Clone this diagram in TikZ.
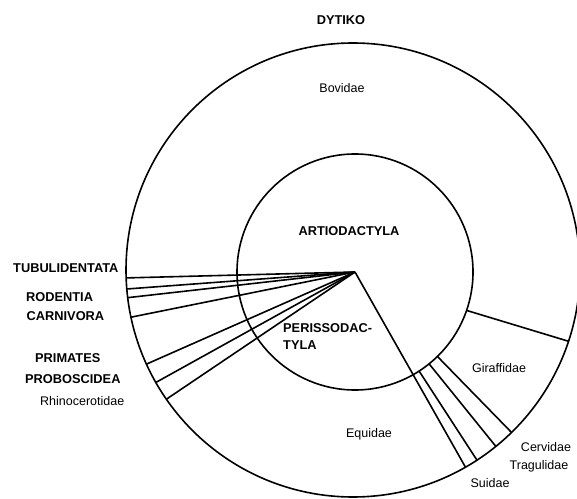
\documentclass[tikz,border=0pt]{standalone}
\usepackage{fontspec}
\setmainfont{Liberation Sans}
\begin{document}
\begin{tikzpicture}[x=1pt,y=1pt,
  ring/.style={draw, line width=1.6pt},
  ray/.style={draw, line width=1.6pt},
  order/.style={font=\fontsize{12.8}{17}\selectfont\bfseries, inner sep=0pt},
  family/.style={font=\fontsize{12.5}{15}\selectfont, inner sep=0pt}]
\useasboundingbox (0,0) rectangle (577,498);
\coordinate (O) at (353,228);
\coordinate (H) at (355,226);
\draw[ring] (O) circle (227pt);
\draw[ring] (H) circle (118pt);
% rays from the hub to the outer ring (left side)
\foreach \a [count=\i] in {182,184.8,187,192,204.5,209.7,214.7}{
  \coordinate (L\i) at ([shift={(\a:227)}]O);
  \draw[ray] (H) -- (L\i);
}
% Perissodactyla / Artiodactyla boundary
\coordinate (P) at ([shift={(-60.3:227)}]O);
\draw[ray] (H) -- (P);
% family boundaries in the outer ring (right side)
\coordinate (S1) at ([shift={(-57.1:118)}]H);
\coordinate (S2) at ([shift={(-56.9:227)}]O);
\coordinate (T1) at ([shift={(-51.1:118)}]H);
\coordinate (T2) at ([shift={(-51.0:227)}]O);
\coordinate (C1) at ([shift={(-45.7:118)}]H);
\coordinate (C2) at ([shift={(-45.7:227)}]O);
\coordinate (G1) at ([shift={(-19.0:118)}]H);
\coordinate (G2) at ([shift={(-18.3:227)}]O);
\draw[ray] (S1) -- (S2);
\draw[ray] (T1) -- (T2);
\draw[ray] (C1) -- (C2);
\draw[ray] (G1) -- (G2);
% labels
\node[order] (dytiko) at (341,478) {DYTIKO};
\node[family] (bovidae) at (342,410) {Bovidae};
\node[order] (artio) at (349,267) {ARTIODACTYLA};
\node[order, anchor=west, align=left] (peri) at (283,161.5) {PERISSODAC-\\TYLA};
\node[order, anchor=west] (tubu) at (13,230) {TUBULIDENTATA};
\node[order, anchor=west] (rode) at (26,201) {RODENTIA};
\node[order, anchor=west] (carn) at (26.5,182) {CARNIVORA};
\node[order, anchor=west] (prim) at (35,140) {PRIMATES};
\node[order, anchor=west] (prob) at (25,119) {PROBOSCIDEA};
\node[family, anchor=west] (rhin) at (40,97) {Rhinocerotidae};
\node[family] (gira) at (499,130) {Giraffidae};
\node[family] (cerv) at (546,51) {Cervidae};
\node[family] (trag) at (539,32) {Tragulidae};
\node[family] (suid) at (490,15) {Suidae};
\node[family] (equi) at (369,64) {Equidae};
\end{tikzpicture}
\end{document}
